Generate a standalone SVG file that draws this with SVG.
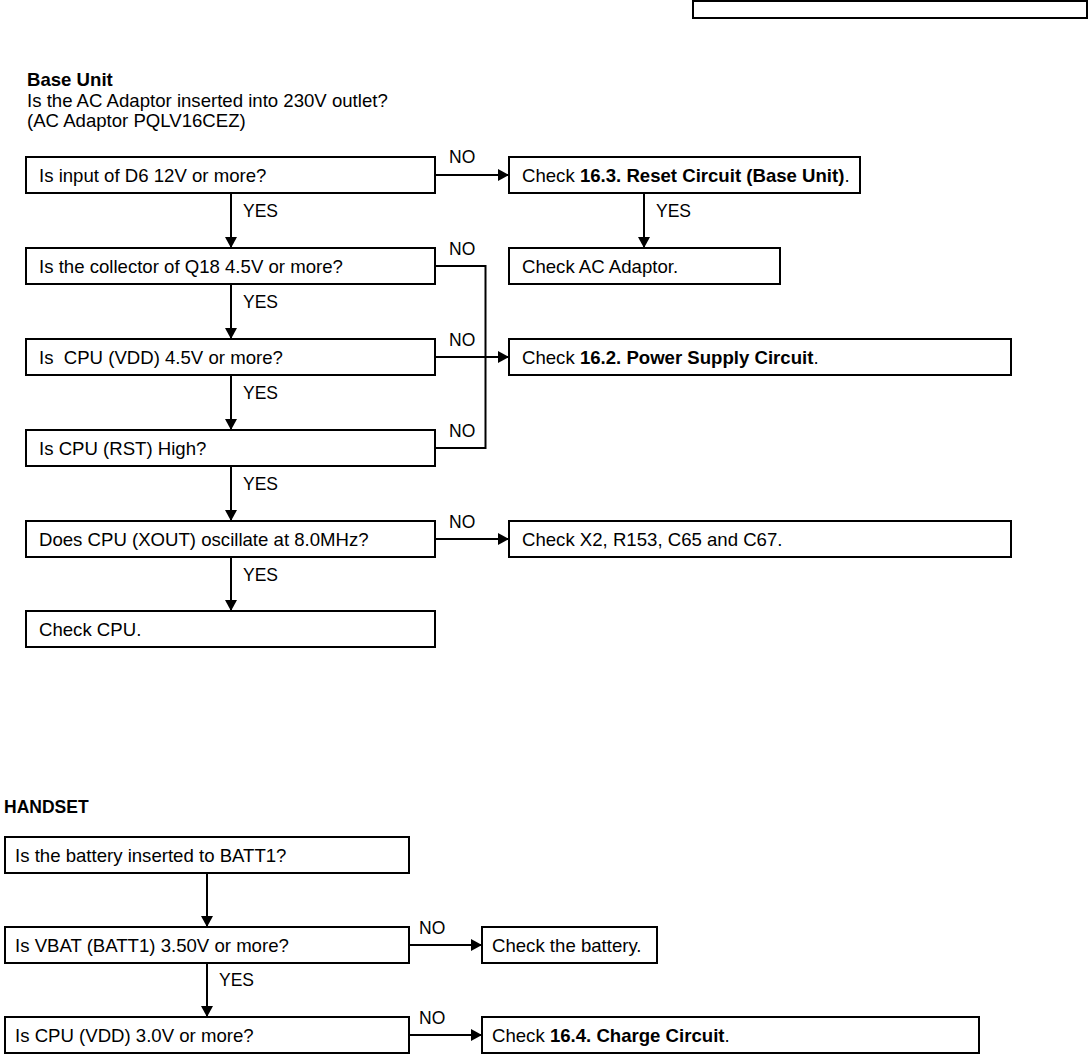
<svg xmlns="http://www.w3.org/2000/svg" width="1089" height="1055" viewBox="0 0 1089 1055">
<style>
text{font-family:"Liberation Sans",Arial,sans-serif;font-size:18.6px;fill:#000}
.b{font-weight:bold}
.box{fill:#fff;stroke:#000;stroke-width:2}
.ln{fill:none;stroke:#000;stroke-width:2}
.lbl{font-size:17.5px}
</style>
<defs>
<marker id="ah" markerWidth="12" markerHeight="12" refX="11" refY="6" orient="auto" markerUnits="userSpaceOnUse">
<path d="M0,0 L11,6 L0,12 Z" fill="#000"/>
</marker>
</defs>
<rect width="1089" height="1055" fill="#fff"/>
<rect x="693" y="1" width="394" height="17" fill="none" stroke="#000" stroke-width="2"/>

<g id="header">
<text x="27" y="86" class="b">Base Unit</text>
<text x="27" y="107">Is the AC Adaptor inserted into 230V outlet?</text>
<text x="27" y="127">(AC Adaptor PQLV16CEZ)</text>
</g>

<g id="connectors">
<line class="ln" x1="436" y1="175" x2="509" y2="175" marker-end="url(#ah)"/>
<line class="ln" x1="644" y1="193" x2="644" y2="248" marker-end="url(#ah)"/>
<line class="ln" x1="231" y1="193" x2="231" y2="248" marker-end="url(#ah)"/>
<polyline class="ln" points="436,266 485.5,266 485.5,448 436,448"/>
<line class="ln" x1="436" y1="357" x2="509" y2="357" marker-end="url(#ah)"/>
<line class="ln" x1="231" y1="284" x2="231" y2="339" marker-end="url(#ah)"/>
<line class="ln" x1="231" y1="375" x2="231" y2="430" marker-end="url(#ah)"/>
<line class="ln" x1="231" y1="466" x2="231" y2="521" marker-end="url(#ah)"/>
<line class="ln" x1="436" y1="539" x2="509" y2="539" marker-end="url(#ah)"/>
<line class="ln" x1="231" y1="557" x2="231" y2="611" marker-end="url(#ah)"/>
<line class="ln" x1="207" y1="873" x2="207" y2="927" marker-end="url(#ah)"/>
<line class="ln" x1="207" y1="963" x2="207" y2="1017" marker-end="url(#ah)"/>
<line class="ln" x1="409" y1="945" x2="482" y2="945" marker-end="url(#ah)"/>
<line class="ln" x1="409" y1="1035" x2="482" y2="1035" marker-end="url(#ah)"/>
<text x="449" y="163" class="lbl">NO</text>
<text x="656" y="217" class="lbl">YES</text>
<text x="243" y="217" class="lbl">YES</text>
<text x="449" y="255" class="lbl">NO</text>
<text x="243" y="308" class="lbl">YES</text>
<text x="449" y="346" class="lbl">NO</text>
<text x="243" y="399" class="lbl">YES</text>
<text x="449" y="437" class="lbl">NO</text>
<text x="243" y="490" class="lbl">YES</text>
<text x="449" y="528" class="lbl">NO</text>
<text x="243" y="581" class="lbl">YES</text>
<text x="419" y="934" class="lbl">NO</text>
<text x="219" y="986" class="lbl">YES</text>
<text x="419" y="1024" class="lbl">NO</text>
</g>

<g id="b1"><rect class="box" x="26" y="157" width="409" height="36"/><text x="39" y="182">Is input of D6 12V or more?</text></g>
<g id="r1"><rect class="box" x="509" y="157" width="351" height="36"/><text x="522" y="182">Check <tspan class="b">16.3. Reset Circuit (Base Unit)</tspan>.</text></g>
<g id="b2"><rect class="box" x="26" y="248" width="409" height="36"/><text x="39" y="273">Is the collector of Q18 4.5V or more?</text></g>
<g id="r2"><rect class="box" x="509" y="248" width="271" height="36"/><text x="522" y="273">Check AC Adaptor.</text></g>
<g id="b3"><rect class="box" x="26" y="339" width="409" height="36"/><text x="39" y="364" style="white-space:pre">Is  CPU (VDD) 4.5V or more?</text></g>
<g id="r3"><rect class="box" x="509" y="339" width="502" height="36"/><text x="522" y="364">Check <tspan class="b">16.2. Power Supply Circuit</tspan>.</text></g>
<g id="b4"><rect class="box" x="26" y="430" width="409" height="36"/><text x="39" y="455">Is CPU (RST) High?</text></g>
<g id="b5"><rect class="box" x="26" y="521" width="409" height="36"/><text x="39" y="546">Does CPU (XOUT) oscillate at 8.0MHz?</text></g>
<g id="r5"><rect class="box" x="509" y="521" width="502" height="36"/><text x="522" y="546">Check X2, R153, C65 and C67.</text></g>
<g id="b6"><rect class="box" x="26" y="611" width="409" height="36"/><text x="39" y="636">Check CPU.</text></g>

<text x="4" y="813" class="b" style="font-size:17.5px">HANDSET</text>
<g id="h1"><rect class="box" x="5" y="837" width="404" height="36"/><text x="15" y="862">Is the battery inserted to BATT1?</text></g>
<g id="h2"><rect class="box" x="5" y="927" width="404" height="36"/><text x="15" y="952">Is VBAT (BATT1) 3.50V or more?</text></g>
<g id="h2n"><rect class="box" x="482" y="927" width="175" height="36"/><text x="492" y="952">Check the battery.</text></g>
<g id="h3"><rect class="box" x="5" y="1017" width="404" height="36"/><text x="15" y="1042">Is CPU (VDD) 3.0V or more?</text></g>
<g id="h3n"><rect class="box" x="482" y="1017" width="497" height="36"/><text x="492" y="1042">Check <tspan class="b">16.4. Charge Circuit</tspan>.</text></g>
</svg>
